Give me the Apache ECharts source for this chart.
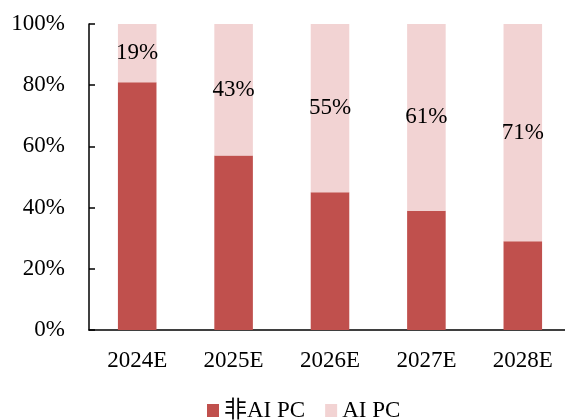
<!DOCTYPE html>
<html>
<head>
<meta charset="utf-8">
<script src="https://cdn.jsdelivr.net/npm/echarts@6/dist/echarts.min.js"></script>
<style>
  html, body { margin: 0; padding: 0; background: #fff; overflow: hidden; }
  #chart { width: 580px; height: 420px; }
</style>
</head>
<body>
<div id="chart"></div>
<script>
// PC shipment mix forecast (share of units, %)
const years = ['2024E', '2025E', '2026E', '2027E', '2028E'];
const nonAiShare = [81, 57, 45, 39, 29];
const aiShare = [19, 43, 55, 61, 71];
const yTicks = [0, 20, 40, 60, 80, 100];

const FONT = '"Liberation Serif", "Times New Roman", "Noto Sans CJK SC", serif';

const chart = echarts.init(document.getElementById('chart'), null, { renderer: 'canvas' });
chart.setOption({
  animation: false,
  textStyle: { fontFamily: FONT, color: '#000' },
  // the plot area runs slightly past the right edge of the 565px frame
  grid: { left: 89, width: 482, top: 24, height: 306, containLabel: false },
  legend: {
    data: ['非AI PC', 'AI PC'],
    left: 202,
    top: 394,
    icon: 'rect',
    itemWidth: 12,
    itemHeight: 13,
    itemGap: 20,
    textStyle: { fontFamily: FONT, fontSize: 23, color: '#000' }
  },
  xAxis: {
    type: 'category',
    data: years,
    axisLine: { lineStyle: { color: '#000', width: 1.5 } },
    axisTick: { inside: true, length: 6, alignWithLabel: false, lineStyle: { color: '#000', width: 1.5 } },
    axisLabel: { fontFamily: FONT, fontSize: 23, color: '#000', margin: 19 }
  },
  yAxis: {
    type: 'value',
    min: yTicks[0],
    max: yTicks[yTicks.length - 1],
    interval: yTicks[1] - yTicks[0],
    splitLine: { show: false },
    axisLine: { show: true, lineStyle: { color: '#000', width: 1.5 } },
    axisTick: { show: true, inside: true, length: 6, lineStyle: { color: '#000', width: 1.5 } },
    axisLabel: { fontFamily: FONT, fontSize: 23, color: '#000', margin: 24, formatter: '{value}%' }
  },
  series: [
    {
      name: '非AI PC',
      type: 'bar',
      stack: 'share',
      data: nonAiShare,
      barWidth: '40%',
      itemStyle: { color: '#C0504D' }
    },
    {
      name: 'AI PC',
      type: 'bar',
      stack: 'share',
      data: aiShare,
      barWidth: '40%',
      itemStyle: { color: '#F2D3D3' },
      label: {
        show: true,
        position: 'inside',
        formatter: '{c}%',
        fontFamily: FONT,
        fontSize: 23,
        color: '#000'
      }
    }
  ]
});
</script>
</body>
</html>
